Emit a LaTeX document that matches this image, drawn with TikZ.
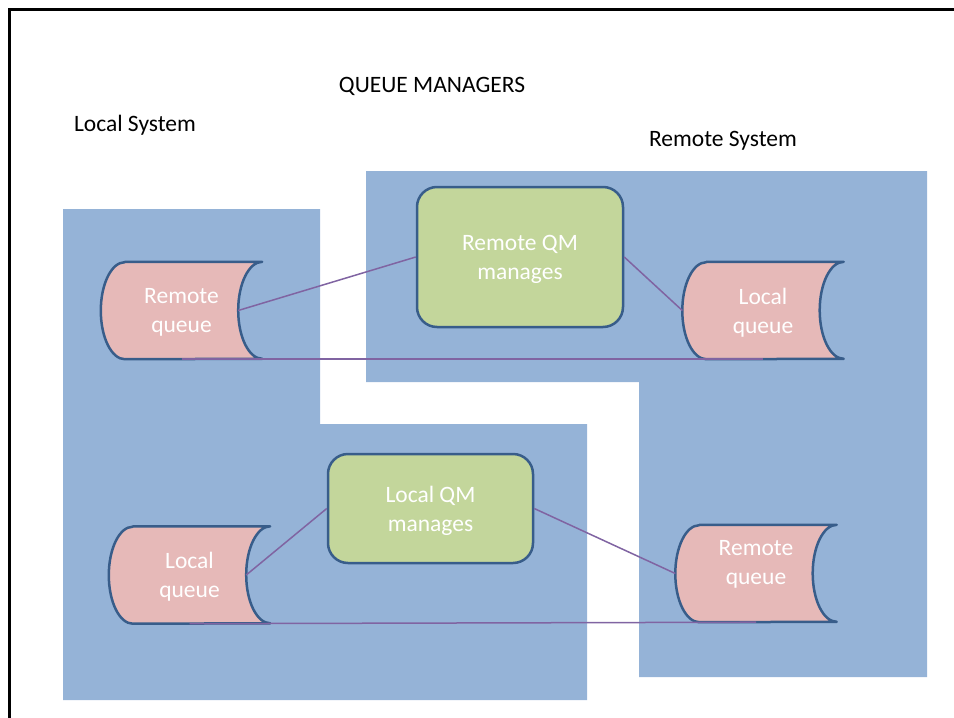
\documentclass[tikz,border=0pt]{standalone}
\usepackage{fontspec}
\setmainfont{Carlito}
\usetikzlibrary{backgrounds}

\definecolor{sysblue}{HTML}{95B3D7}
\definecolor{qpink}{HTML}{E6B9B8}
\definecolor{qmgreen}{HTML}{C3D69B}
\definecolor{outline}{HTML}{385D8A}
\definecolor{linkpurple}{HTML}{8064A2}

% depth of the curved ends and half height of a queue symbol
\newcommand\qdepth{24pt}
\newcommand\qrad{48.5pt}

% stored-data outline of a queue node, plus its inner connection point
\newcommand\queueoutline[1]{%
  \path[qline] ([xshift=\qdepth]#1.north west) -- (#1.north east)
    arc[start angle=90,end angle=270,x radius=\qdepth,y radius=\qrad]
    -- ([xshift=\qdepth]#1.south west)
    arc[start angle=270,end angle=90,x radius=\qdepth,y radius=\qrad] -- cycle;
  \coordinate (#1-in) at ([xshift=-\qdepth]#1.east);}

\begin{document}
\begin{tikzpicture}[x=1pt,y=-1pt,
  lbl/.style={font=\fontsize{23.5}{29}\selectfont, inner sep=0pt},
  qtext/.style={lbl, text=white, align=center, text depth=0pt},
  queue/.style={qtext, minimum width=161pt, minimum height=97pt},
  qmbox/.style={qtext, draw=outline, line width=2.5pt, fill=qmgreen,
                rounded corners=20pt},
  qline/.style={draw=outline, line width=2.5pt, fill=qpink, line join=round},
  link/.style={draw=linkpurple, line width=1.5pt},
  system/.style={fill=sysblue},
  frame/.style={draw=black, line width=2.7pt, line join=miter}]

\useasboundingbox (0,0) rectangle (954,718);

% page frame
\draw[frame] (9.5,718) -- (9.5,9.5) -- (954,9.5);

% the two systems
\begin{scope}[on background layer]
  \fill[system] (63,209) -- (320,209) -- (320,424) -- (587,424)
    -- (587,700) -- (63,700) -- cycle;
  \fill[system] (366,171) -- (927,171) -- (927,677) -- (639,677)
    -- (639,382) -- (366,382) -- cycle;
\end{scope}

% headings
\node[lbl] (title) at (432,86) {QUEUE MANAGERS};
\node[lbl] (localsys) at (135,125) {Local System};
\node[lbl] (remotesys) at (723,140.5) {Remote System};

% queue managers
\node[qmbox, minimum width=206pt, minimum height=140pt] (rqm) at (520,257)
  {Remote QM\\manages};
\node[qmbox, minimum width=205pt, minimum height=109pt] (lqm) at (430.5,508.5)
  {Local QM\\manages};

% queues
\node[queue] (rq1) at (181.5,310.5) {Remote\\queue};
\node[queue] (lq1) at (763,310.5) {Local\\queue};
\node[queue] (lq2) at (189.5,575) {Local\\queue};
\node[queue, label={[qtext, yshift=11pt]center:Remote\\queue}] (rq2)
  at (756,573.5) {};

\begin{scope}[on background layer]
  \queueoutline{rq1}
  \queueoutline{lq1}
  \queueoutline{lq2}
  \queueoutline{rq2}
\end{scope}

% connections
\draw[link] (rq1-in) -- (rqm.west);
\draw[link] (rqm.east) -- (lq1.west);
\draw[link] (rq1.south) -- (lq1.south);
\draw[link] (lq2-in) -- (lqm.west);
\draw[link] (lqm.east) -- (rq2.west);
\draw[link] (lq2.south) -- (rq2.south);
\end{tikzpicture}
\end{document}
